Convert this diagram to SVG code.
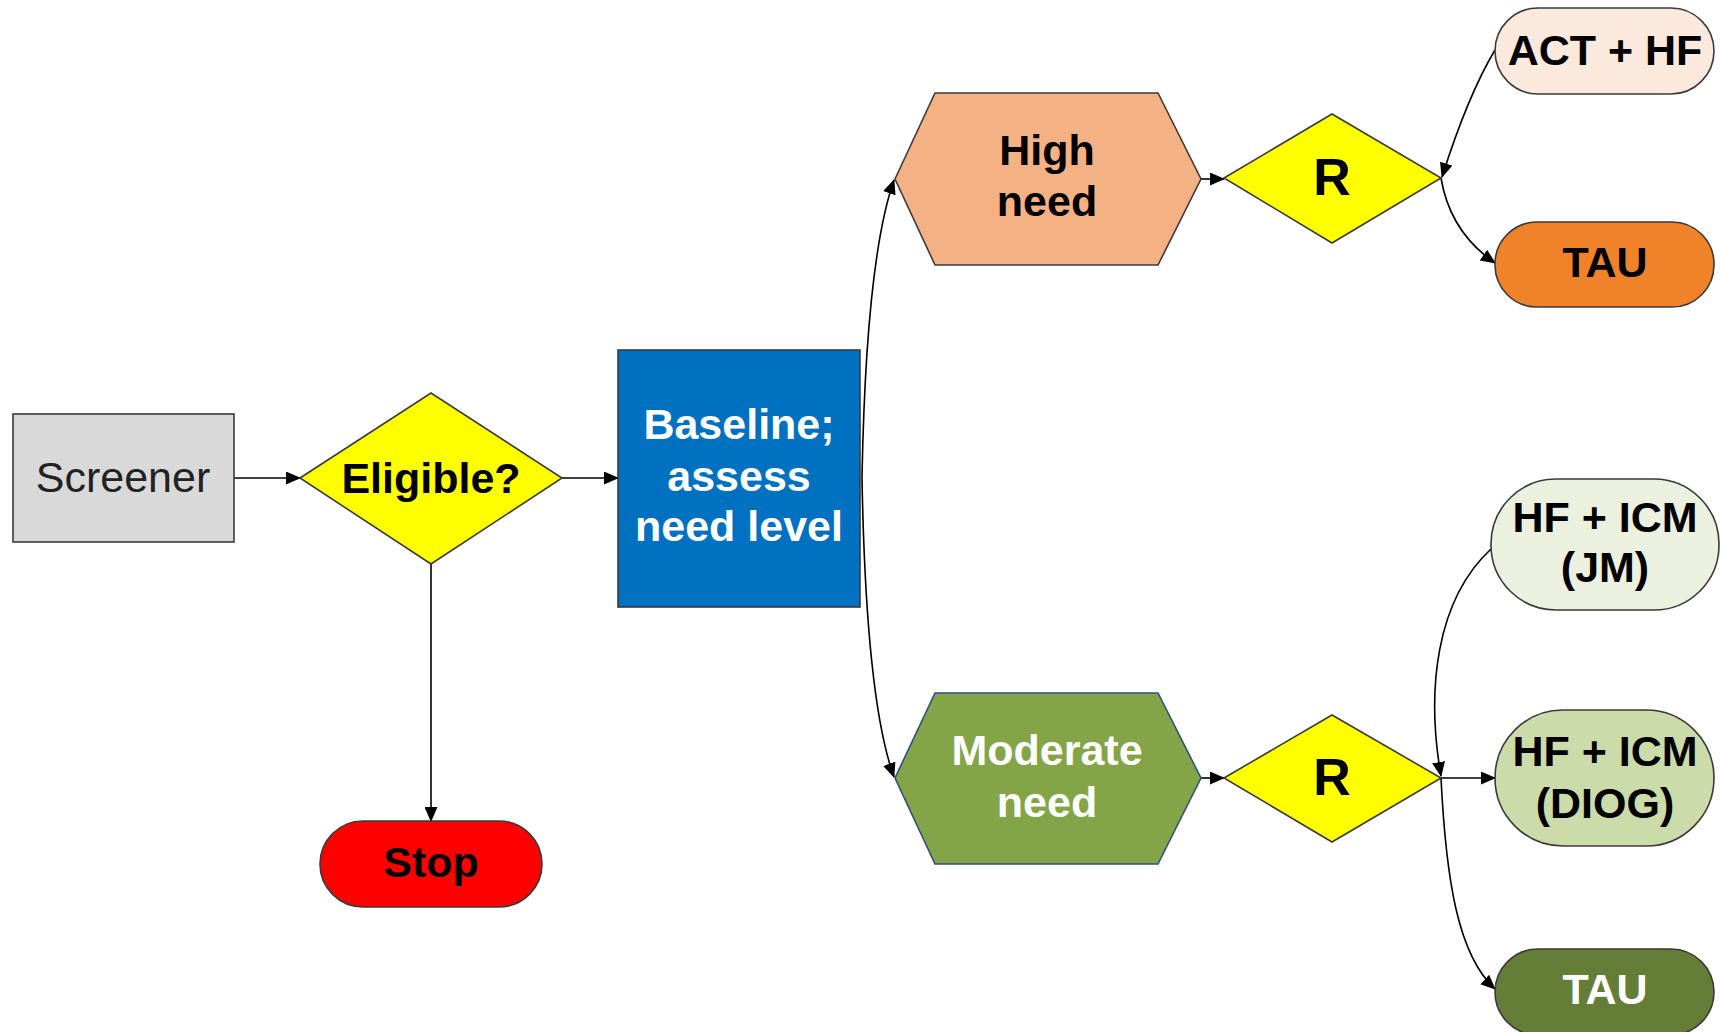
<svg xmlns="http://www.w3.org/2000/svg" width="1721" height="1032" viewBox="0 0 1721 1032">
<defs>
<marker id="arr" markerUnits="userSpaceOnUse" markerWidth="15" markerHeight="13" viewBox="0 0 15 13" refX="14" refY="6.5" orient="auto">
<path d="M0,0 L15,6.5 L0,13 z" fill="#000"/>
</marker>
</defs>
<style>
.sh{stroke:#3a3a3a;stroke-width:1.6}
.t{font-family:"Liberation Sans",Arial,sans-serif;font-size:43px;font-weight:bold;text-anchor:middle;fill:#000}
.w{fill:#fff}
.r{font-size:52px}
.c{fill:none;stroke:#000;stroke-width:1.6;marker-end:url(#arr)}
</style>
<rect width="1721" height="1032" fill="#fff"/>
<g id="connectors">
<path class="c" d="M234,478 L300,478"/>
<path class="c" d="M562,478 L618,478"/>
<path class="c" d="M431,564 L431,821"/>
<path class="c" d="M862,478 Q866,260 894,180"/>
<path class="c" d="M862,478 Q866,700 894,777"/>
<path class="c" d="M1201,179 L1224,179"/>
<path class="c" d="M1201,778 L1224,778"/>
<path class="c" d="M1495,50 Q1468,95 1442,177"/>
<path class="c" d="M1441,178 Q1450,232 1495,263"/>
<path class="c" d="M1491,549 C1436,600 1426,690 1441,776"/>
<path class="c" d="M1441,778 L1495,778"/>
<path class="c" d="M1441,778 C1446,880 1458,955 1495,989"/>
</g>
<g id="screener">
<rect class="sh" x="13" y="414" width="221" height="128" fill="#d9d9d9"/>
<text class="t" x="123" y="492" style="font-weight:normal;fill:#222">Screener</text>
</g>
<g id="eligible">
<polygon class="sh" points="300,478 431,393 562,478 431,564" fill="#ffff00"/>
<text class="t" x="431" y="493">Eligible?</text>
</g>
<g id="stop">
<rect class="sh" x="320" y="821" width="222" height="86" rx="43" fill="#ff0000"/>
<text class="t" x="431" y="877">Stop</text>
</g>
<g id="baseline">
<rect class="sh" x="618" y="350" width="242" height="257" fill="#0070c0"/>
<text class="t w" x="739" y="439">Baseline;</text>
<text class="t w" x="739" y="491">assess</text>
<text class="t w" x="739" y="541">need level</text>
</g>
<g id="high-need">
<polygon class="sh" points="895,179 935,93 1158,93 1201,179 1158,265 935,265" fill="#f4b183"/>
<text class="t" x="1047" y="165">High</text>
<text class="t" x="1047" y="216">need</text>
</g>
<g id="r-high">
<polygon class="sh" points="1224,178 1332,114 1441,178 1332,243" fill="#ffff00"/>
<text class="t r" x="1332" y="195">R</text>
</g>
<g id="act-hf">
<rect class="sh" x="1495" y="8" width="219" height="86" rx="43" fill="#fbe9de"/>
<text class="t" x="1605" y="65">ACT + HF</text>
</g>
<g id="tau-high">
<rect class="sh" x="1495" y="222" width="219" height="85" rx="42" fill="#f0822a"/>
<text class="t" x="1605" y="277">TAU</text>
</g>
<g id="moderate-need">
<polygon points="895,778 935,693 1158,693 1201,778 1158,864 935,864" fill="#83a547" stroke="#2f4f7f" stroke-width="1.6"/>
<text class="t w" x="1047" y="765">Moderate</text>
<text class="t w" x="1047" y="817">need</text>
</g>
<g id="r-moderate">
<polygon class="sh" points="1224,778 1332,715 1441,778 1332,842" fill="#ffff00"/>
<text class="t r" x="1332" y="795">R</text>
</g>
<g id="hf-icm-jm">
<rect class="sh" x="1491" y="479" width="228" height="131" rx="65" fill="#ebf1de"/>
<text class="t" x="1605" y="532">HF + ICM</text>
<text class="t" x="1605" y="582">(JM)</text>
</g>
<g id="hf-icm-diog">
<rect class="sh" x="1495" y="710" width="219" height="136" rx="68" fill="#cbdcaa"/>
<text class="t" x="1605" y="766">HF + ICM</text>
<text class="t" x="1605" y="818">(DIOG)</text>
</g>
<g id="tau-moderate">
<rect class="sh" x="1495" y="949" width="219" height="86" rx="43" fill="#647d37"/>
<text class="t w" x="1605" y="1004">TAU</text>
</g>
</svg>
